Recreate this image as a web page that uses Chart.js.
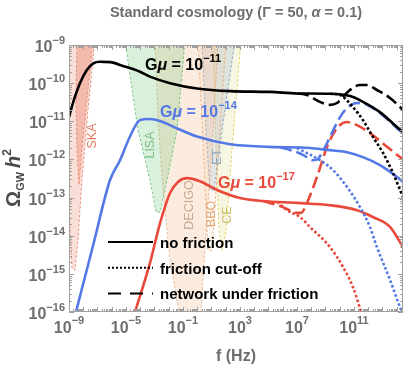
<!DOCTYPE html>
<html>
<head>
<meta charset="utf-8">
<script src="https://cdn.jsdelivr.net/npm/chart.js@4.4.0/dist/chart.umd.min.js"></script>
<style>
  html, body { margin: 0; padding: 0; background: #fff; }
</style>
</head>
<body>
<canvas id="chart" width="407" height="365"></canvas>
<script>
// all values are log10(f / Hz) and log10(Omega_GW h^2)

// G mu = 1e-11
const f11Solid = [-9.0, -8.70, -8.23, -7.76, -7.29, -6.82, -6.12, -5.21, -4.02, -3.32, -1.91, -0.02, 2.30, 5.11, 7.0, 9.32, 10.72, 11.63, 12.82, 14.02, 14.44];
const om11Solid = [-10.89, -10.49, -10.00, -9.66, -9.48, -9.44, -9.45, -9.55, -9.70, -9.83, -10.00, -10.14, -10.21, -10.23, -10.27, -10.28, -10.34, -10.49, -10.76, -11.15, -11.28];
const f11Cut = [9.32, 10.02, 10.93, 11.63, 12.33, 13.04, 13.74, 14.23, 14.44];
const om11Cut = [-10.28, -10.31, -10.63, -10.97, -11.41, -11.83, -12.36, -12.80, -12.99];
const f11Net = [7.0, 7.70, 8.61, 9.32, 9.81, 10.23, 10.72, 11.42, 11.91, 12.61, 13.53, 14.44];
const om11Net = [-10.27, -10.31, -10.49, -10.57, -10.52, -10.36, -10.18, -10.05, -10.05, -10.18, -10.39, -10.70];

// G mu = 1e-14
const f14Solid = [-8.60, -7.32, -6.12, -5.42, -4.72, -4.02, -3.32, -2.61, -1.70, -0.02, 2.30, 5.11, 7.91, 9.11, 10.51, 11.63, 12.82, 14.02, 14.44];
const om14Solid = [-16.13, -14.27, -12.54, -12.02, -11.40, -10.97, -10.94, -10.99, -11.14, -11.40, -11.60, -11.67, -11.70, -11.75, -11.81, -11.94, -12.15, -12.46, -12.59];
const f14Cut = [7.0, 8.61, 9.53, 10.51, 11.42, 12.12, 12.61, 13.53, 14.23, 14.44];
const om14Cut = [-11.70, -12.02, -12.28, -12.72, -13.25, -13.77, -14.30, -15.16, -15.87, -16.05];
const f14Net = [5.81, 6.51, 7.42, 8.12, 8.47, 8.75, 9.32, 10.02, 10.51, 11.21, 11.91, 12.82, 14.02, 14.44];
const om14Net = [-11.69, -11.75, -11.88, -12.02, -11.99, -11.83, -11.41, -10.89, -10.65, -10.52, -10.57, -10.78, -11.18, -11.31];

// G mu = 1e-17
const f17Solid = [-4.45, -3.32, -2.61, -1.91, -1.35, -0.72, 0.19, 1.39, 3.0, 4.61, 7.0, 9.32, 11.21, 12.33, 13.53, 14.44];
const om17Solid = [-16.10, -14.72, -13.67, -12.88, -12.59, -12.49, -12.57, -12.80, -13.01, -13.09, -13.14, -13.20, -13.33, -13.51, -13.77, -14.30];
const f17Cut = [5.60, 6.30, 7.21, 7.91, 9.32, 10.23, 10.93, 11.42, 11.60];
const om17Cut = [-13.11, -13.33, -13.51, -13.77, -14.30, -14.82, -15.35, -15.90, -16.10];
const f17Net = [4.61, 6.02, 7.0, 7.28, 7.70, 8.40, 9.11, 9.81, 10.51, 11.21, 12.12, 13.32, 14.44];
const om17Net = [-13.09, -13.25, -13.40, -13.40, -13.14, -12.46, -11.67, -11.18, -11.02, -11.10, -11.31, -11.67, -12.00];

// detector sensitivity regions (outlines)
const skaOuterF = [-9.07, -7.18, -7.67, -8.09, -8.37, -8.58, -8.79, -8.93, -9.07];
const skaOuterO = [-8.87, -8.87, -10.70, -12.54, -14.11, -14.90, -14.85, -13.85, -12.54];
const skaInnerF = [-8.44, -7.32, -7.74, -8.09, -8.30, -8.44, -8.51];
const skaInnerO = [-8.87, -8.87, -10.44, -11.75, -12.67, -11.75, -10.44];
const lisaF = [-5.07, -0.86, -1.42, -2.05, -2.61, -2.89, -3.32, -4.16];
const lisaO = [-8.87, -8.87, -11.23, -12.41, -13.38, -13.38, -12.54, -11.23];
const decigoF = [-2.96, 1.46, 1.04, 0.61, 0.19, -1.07, -1.91, -2.40, -2.75];
const decigoO = [-8.87, -8.87, -11.75, -13.85, -16.47, -16.47, -14.64, -12.80, -10.97];
const bboF = [0.05, 2.02, 1.46, 1.04, 0.75, 0.47];
const bboO = [-8.87, -8.87, -12.02, -14.38, -14.38, -12.02];
const etF = [0.33, 2.65, 1.74, 1.18, 0.89, 0.61];
const etO = [-8.87, -8.87, -11.23, -12.80, -12.80, -11.23];
const ceF = [1.11, 3.07, 2.44, 2.02, 1.74, 1.53, 1.32];
const ceO = [-8.87, -8.87, -11.75, -13.85, -14.38, -13.85, -11.75];

// axis
const xRange = [-9, 14.44];
const yRange = [-16, -9];
const xLabelExp = [-9, -5, -1, 3, 7, 11];
const yLabelExp = [-16, -15, -14, -13, -12, -11, -10, -9];

const legendNames = ['no friction', 'friction cut-off', 'network under friction'];

const BLACK = '#000000', BLUE = '#5478e6', RED = '#e8493b';
const DASH = [12, 5], DOT = [2.6, 2.2];

const pts = (fs, os) => fs.map((f, i) => ({ x: Math.pow(10, f), y: Math.pow(10, os[i]) }));

function curve(fs, os, color, dash, order) {
  return {
    data: pts(fs, os), borderColor: color, borderWidth: 2.6, borderDash: dash || [],
    pointRadius: 0, fill: false, cubicInterpolationMode: 'monotone', order: order,
    borderCapStyle: 'butt'
  };
}
function region(fs, os, fillC, lineC) {
  const d = pts(fs, os);
  d.push(d[0]);
  return {
    data: d, borderColor: lineC, borderWidth: 1, borderDash: [2.5, 2],
    backgroundColor: fillC, fill: 'shape', pointRadius: 0, tension: 0, order: 20
  };
}

function makeTicks(lo, hi, maxLog) {
  const out = [];
  for (let d = lo; d <= hi; d++) {
    for (let k = 1; k <= 9; k++) {
      const v = k * Math.pow(10, d);
      if (Math.log10(v) <= maxLog + 1e-6) out.push({ value: v, major: k === 1, exp: d });
    }
  }
  return out;
}

function rich(ctx, parts, x, y, align) {
  let w = 0;
  parts.forEach(p => { ctx.font = p[1]; w += ctx.measureText(p[0]).width; });
  let cx = align === 'center' ? x - w / 2 : align === 'right' ? x - w : x;
  parts.forEach(p => {
    ctx.font = p[1];
    ctx.fillText(p[0], cx, y + (p[2] || 0));
    cx += ctx.measureText(p[0]).width;
  });
}

const FONT = '"Liberation Sans", Arial, sans-serif';
const TICKC = '#6e6e6e';

const framePlugin = {
  id: 'frame',
  afterDatasetsDraw(chart) {
    const { ctx, chartArea: a, scales } = chart;
    const xs = scales.x, ys = scales.y;
    ctx.save();
    ctx.strokeStyle = '#a0a0a0';
    ctx.lineWidth = 1;
    ctx.strokeRect(a.left + 0.5, a.top + 0.5, a.right - a.left - 1, a.bottom - a.top - 1);
    ctx.beginPath();
    xs.ticks.forEach(t => {
      const p = Math.round(xs.getPixelForValue(t.value)) + 0.5;
      const len = t.major ? 5 : 3;
      ctx.moveTo(p, a.bottom); ctx.lineTo(p, a.bottom - len);
      ctx.moveTo(p, a.top); ctx.lineTo(p, a.top + len);
    });
    ys.ticks.forEach(t => {
      const p = Math.round(ys.getPixelForValue(t.value)) + 0.5;
      const len = t.major ? 5 : 3;
      ctx.moveTo(a.left, p); ctx.lineTo(a.left + len, p);
      ctx.moveTo(a.right, p); ctx.lineTo(a.right - len, p);
    });
    ctx.stroke();

    ctx.fillStyle = TICKC;
    ctx.textBaseline = 'alphabetic';
    const big = 'bold 16px ' + FONT, sup = 'bold 11px ' + FONT;
    xLabelExp.forEach(e => {
      const p = xs.getPixelForValue(Math.pow(10, e));
      rich(ctx, [['10', big], ['\u2212' + Math.abs(e), sup, -9]].map((q, i) => i === 1 && e >= 0 ? [String(e), sup, -9] : q), p, a.bottom + 21, 'center');
    });
    yLabelExp.forEach(e => {
      const p = ys.getPixelForValue(Math.pow(10, e));
      rich(ctx, [['10', big], ['\u2212' + Math.abs(e), sup, -8]], a.left - 4, p + 7, 'right');
    });

    // titles
    rich(ctx, [['Standard cosmology (\u0393 = 50, ', 'bold 14.5px ' + FONT], ['\u03b1', 'bold italic 14.5px ' + FONT], [' = 0.1)', 'bold 14.5px ' + FONT]], (a.left + a.right) / 2, 17, 'center');
    rich(ctx, [['f (Hz)', 'bold 16px ' + FONT]], (a.left + a.right) / 2, 361, 'center');
    ctx.save();
    ctx.translate(20, 178);
    ctx.rotate(-Math.PI / 2);
    ctx.fillStyle = '#4a4a4a';
    rich(ctx, [['\u03a9', 'bold 20px ' + FONT], ['GW', 'bold 11px ' + FONT, 4], [' ', 'bold 14px ' + FONT], ['h', 'bold italic 20px ' + FONT], ['2', 'bold 12px ' + FONT, -9]], 0, 0, 'center');
    ctx.restore();
    ctx.restore();
  }
};

const labelPlugin = {
  id: 'labels',
  afterDatasetsDraw(chart) {
    const { ctx } = chart;
    ctx.save();
    // detector names
    const det = [
      ['SKA', 93, 136, '#e27b63'], ['LISA', 151, 145, '#7cbd84'], ['DECIGO', 190, 205, '#c4a892'],
      ['BBO', 212, 214, '#e2a574'], ['ET', 218, 157, '#8ea8c0'], ['CE', 228, 215, '#c9bb62']
    ];
    det.forEach(d => {
      ctx.save();
      ctx.translate(d[1], d[2]);
      ctx.rotate(-Math.PI / 2);
      ctx.fillStyle = d[3];
      ctx.font = '12.5px ' + FONT;
      ctx.textAlign = 'center';
      ctx.textBaseline = 'middle';
      ctx.fillText(d[0], 0, 0);
      ctx.restore();
    });
    // curve labels
    const lab = [['\u221211', BLACK, 145, 70], ['\u221214', BLUE, 160, 117], ['\u221217', RED, 218, 188]];
    lab.forEach(l => {
      ctx.fillStyle = l[1];
      rich(ctx, [['G', 'bold 16px ' + FONT], ['\u03bc', 'bold italic 16px ' + FONT], [' = 10', 'bold 16px ' + FONT], [l[0], 'bold 11px ' + FONT, -8]], l[2], l[3], 'left');
    });
    // legend
    const dashes = [[], [2, 2], [13, 9]];
    legendNames.forEach((n, i) => {
      const y = 242 + i * 25.7;
      ctx.strokeStyle = BLACK;
      ctx.lineWidth = 2;
      ctx.setLineDash(dashes[i]);
      ctx.beginPath();
      ctx.moveTo(108, y); ctx.lineTo(153, y);
      ctx.stroke();
      ctx.setLineDash([]);
      ctx.fillStyle = BLACK;
      ctx.font = 'bold 15px ' + FONT;
      ctx.fillText(n, 160, y + 6);
    });
    ctx.restore();
  }
};

const datasets = [
  curve(f11Solid, om11Solid, BLACK, null, 1),
  curve(f11Cut, om11Cut, BLACK, DOT, 2),
  curve(f11Net, om11Net, BLACK, DASH, 2),
  curve(f14Solid, om14Solid, BLUE, null, 3),
  curve(f14Cut, om14Cut, BLUE, DOT, 4),
  curve(f14Net, om14Net, BLUE, DASH, 4),
  curve(f17Solid, om17Solid, RED, null, 5),
  curve(f17Cut, om17Cut, RED, DOT, 6),
  curve(f17Net, om17Net, RED, DASH, 6),
  region(skaOuterF, skaOuterO, 'rgba(238,140,115,0.28)', 'rgba(228,120,95,0.8)'),
  region(skaInnerF, skaInnerO, 'rgba(225,115,85,0.35)', 'rgba(228,120,95,0.8)'),
  region(lisaF, lisaO, 'rgba(120,200,130,0.28)', 'rgba(110,190,120,0.9)'),
  region(decigoF, decigoO, 'rgba(245,185,140,0.28)', 'rgba(230,170,130,0.8)'),
  region(bboF, bboO, 'rgba(240,190,140,0.12)', 'rgba(230,160,110,0.8)'),
  region(etF, etO, 'rgba(130,165,200,0.22)', 'rgba(120,160,200,0.9)'),
  region(ceF, ceO, 'rgba(215,210,110,0.2)', 'rgba(225,205,80,0.9)')
];

new Chart(document.getElementById('chart'), {
  type: 'line',
  data: { datasets: datasets },
  options: {
    responsive: false,
    animation: false,
    events: [],
    layout: { padding: { left: 69, top: 45, right: 4, bottom: 53 }, autoPadding: false },
    plugins: { legend: { display: false }, tooltip: { enabled: false }, title: { display: false } },
    scales: {
      x: {
        type: 'logarithmic', bounds: 'data',
        min: Math.pow(10, xRange[0]), max: Math.pow(10, xRange[1]),
        ticks: { display: false }, grid: { display: false, drawTicks: false }, border: { display: false },
        afterBuildTicks: s => { s.ticks = makeTicks(xRange[0], 14, xRange[1]); }
      },
      y: {
        type: 'logarithmic', bounds: 'data',
        min: Math.pow(10, yRange[0]), max: Math.pow(10, yRange[1]),
        ticks: { display: false }, grid: { display: false, drawTicks: false }, border: { display: false },
        afterBuildTicks: s => { s.ticks = makeTicks(yRange[0], yRange[1], yRange[1]); }
      }
    }
  },
  plugins: [framePlugin, labelPlugin]
});
</script>
</body>
</html>
